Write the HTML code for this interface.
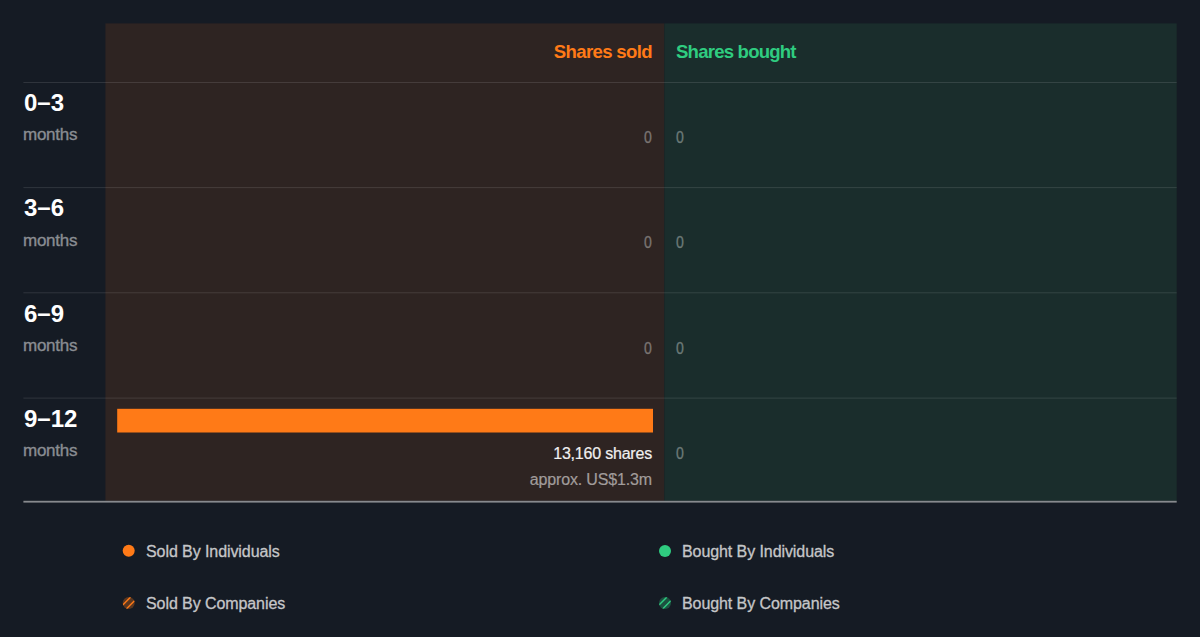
<!DOCTYPE html>
<html>
<head>
<meta charset="utf-8">
<style>
html,body{margin:0;padding:0;}
body{width:1200px;height:637px;background:#151b24;position:relative;overflow:hidden;font-family:"Liberation Sans",sans-serif;}
.a{position:absolute;white-space:nowrap;}
.d{position:relative;top:-1.5px;}
.rl{position:absolute;left:24px;font-weight:bold;font-size:24px;line-height:24px;color:#fff;}
.mo{position:absolute;left:23px;font-size:17px;line-height:18px;letter-spacing:-0.25px;color:#8a8d92;-webkit-text-stroke:0.35px #8a8d92;}
.hd{position:absolute;font-weight:bold;font-size:18.6px;line-height:20px;letter-spacing:-0.65px;}
.z{position:absolute;font-size:16px;line-height:18px;-webkit-text-stroke:0.3px currentColor;}
.zs{right:548px;color:#7a7472;transform:scaleX(0.88);transform-origin:100% 50%;}
.zb{left:676px;color:#6c7a78;transform:scaleX(0.88);transform-origin:0 50%;}
.lg{position:absolute;font-size:16px;line-height:18px;letter-spacing:-0.08px;color:#c5c6c8;-webkit-text-stroke:0.3px #c5c6c8;}
</style>
</head>
<body>
<svg class="a" style="left:0;top:0" width="1200" height="637" viewBox="0 0 1200 637">
<rect x="105.4" y="23.4" width="559" height="477.4" fill="#2e2422"/>
<rect x="664.4" y="23.4" width="512.3" height="477.4" fill="#1a2d2c"/>
<g fill="#ffffff" fill-opacity="0.115">
<rect x="23.4" y="82" width="1153.3" height="1"/>
<rect x="23.4" y="187.1" width="1153.3" height="1"/>
<rect x="23.4" y="292.3" width="1153.3" height="1"/>
<rect x="23.4" y="397.6" width="1153.3" height="1"/>
</g>
<rect x="23.4" y="500.8" width="1153.3" height="1.8" fill="#878a8e"/>
<rect x="117.2" y="408.8" width="535.8" height="23.7" fill="#ff7a17"/>
</svg>

<div class="a hd" style="right:548px;top:42px;color:#ff7a17">Shares sold</div>
<div class="a hd" style="left:676px;top:42px;color:#2fcc80;letter-spacing:-0.8px">Shares bought</div>

<div class="a rl" style="top:91px">0<span class="d">–</span>3</div>
<div class="a mo" style="top:126px">months</div>
<div class="a rl" style="top:196px">3<span class="d">–</span>6</div>
<div class="a mo" style="top:231.5px">months</div>
<div class="a rl" style="top:302px">6<span class="d">–</span>9</div>
<div class="a mo" style="top:337px">months</div>
<div class="a rl" style="top:407px">9<span class="d">–</span>12</div>
<div class="a mo" style="top:442px">months</div>

<div class="a z zs" style="top:129px">0</div>
<div class="a z zb" style="top:129px">0</div>
<div class="a z zs" style="top:234px">0</div>
<div class="a z zb" style="top:234px">0</div>
<div class="a z zs" style="top:340px">0</div>
<div class="a z zb" style="top:340px">0</div>
<div class="a z zb" style="top:445px">0</div>

<div class="a" style="right:548px;top:445px;font-size:16px;line-height:18px;letter-spacing:-0.2px;color:#f2f0f0;-webkit-text-stroke:0.2px #f2f0f0">13,160 shares</div>
<div class="a" style="right:548px;top:471px;font-size:16px;line-height:18px;letter-spacing:-0.15px;color:#a19c9b;-webkit-text-stroke:0.2px #a19c9b">approx. US$1.3m</div>

<svg class="a" style="left:122px;top:544px" width="14" height="14" viewBox="0 0 14 14"><circle cx="6.7" cy="6.85" r="6" fill="#ff7a17"/></svg>
<div class="a lg" style="left:146px;top:543px">Sold By Individuals</div>
<svg class="a" style="left:122px;top:597px" width="14" height="14" viewBox="0 0 14 14"><defs><clipPath id="c1"><circle cx="6.7" cy="6.0" r="6"/></clipPath></defs><circle cx="6.7" cy="6.0" r="6" fill="#ff7a17" fill-opacity="0.3"/><g clip-path="url(#c1)" stroke="#ff7a17" stroke-width="1.4"><line x1="-5.300000000000001" y1="14" x2="8.7" y2="0"/><line x1="2.3000000000000007" y1="14" x2="16.3" y2="0"/></g></svg>
<div class="a lg" style="left:146px;top:595px">Sold By Companies</div>

<svg class="a" style="left:659px;top:544px" width="14" height="14" viewBox="0 0 14 14"><circle cx="6.0" cy="7.0" r="6" fill="#2fcc80"/></svg>
<div class="a lg" style="left:682px;top:543px">Bought By Individuals</div>
<svg class="a" style="left:659px;top:597px" width="14" height="14" viewBox="0 0 14 14"><defs><clipPath id="c2"><circle cx="6.0" cy="6.0" r="6"/></clipPath></defs><circle cx="6.0" cy="6.0" r="6" fill="#2fcc80" fill-opacity="0.3"/><g clip-path="url(#c2)" stroke="#2fcc80" stroke-width="1.4"><line x1="-6.0" y1="14" x2="8.0" y2="0"/><line x1="1.5999999999999996" y1="14" x2="15.6" y2="0"/></g></svg>
<div class="a lg" style="left:682px;top:595px">Bought By Companies</div>
</body>
</html>
